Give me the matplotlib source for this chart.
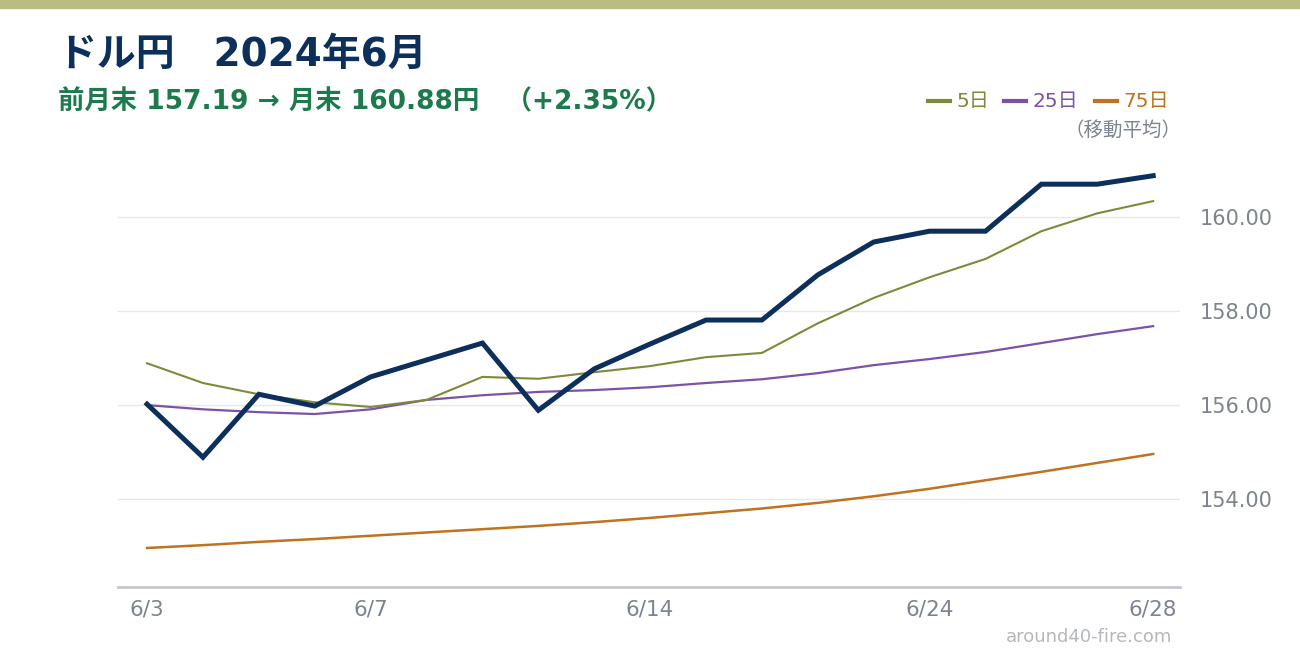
import matplotlib
matplotlib.use("Agg")
import matplotlib.pyplot as plt

plt.rcParams['font.family'] = ['DejaVu Sans', 'Noto Sans CJK JP']

# trading days (6/19 skipped)
dates = ["6/3", "6/4", "6/5", "6/6", "6/7", "6/10", "6/11", "6/12", "6/13", "6/14",
         "6/17", "6/18", "6/20", "6/21", "6/24", "6/25", "6/26", "6/27", "6/28"]
tick_dates = ["6/3", "6/7", "6/14", "6/24", "6/28"]

close = [156.02, 154.89, 156.23, 155.98, 156.60, 156.96, 157.32, 155.89, 156.77, 157.30,
         157.81, 157.81, 158.77, 159.47, 159.70, 159.70, 160.70, 160.70, 160.88]
ma5 = [156.89, 156.47, 156.23, 156.06, 155.96, 156.11, 156.60, 156.56, 156.70, 156.83,
       157.02, 157.11, 157.74, 158.28, 158.72, 159.11, 159.70, 160.08, 160.34]
ma25 = [156.00, 155.91, 155.85, 155.81, 155.91, 156.11, 156.21, 156.28, 156.32, 156.38,
        156.47, 156.55, 156.68, 156.85, 156.98, 157.13, 157.32, 157.51, 157.68]
ma75 = [152.96, 153.02, 153.09, 153.15, 153.22, 153.29, 153.36, 153.43, 153.51, 153.60,
        153.70, 153.80, 153.92, 154.06, 154.22, 154.40, 154.58, 154.77, 154.96]
yticks = [154, 156, 158, 160]

navy = "#0c2f5b"
green = "#1d7a4c"
olive = "#7d8a3a"
purple = "#7b52a8"
orange = "#c0721e"
gray = "#7c8490"

fig = plt.figure(figsize=(13, 6.6), dpi=100)
fig.patch.set_facecolor("white")

# top band
fig.patches.append(plt.Rectangle((0, 1 - 8/660), 1, 8/660, transform=fig.transFigure,
                                 color="#b9bd7f", zorder=0))

ax = fig.add_axes([118/1300, 73/660, 1062/1300, 447/660])
x = list(range(len(dates)))

ax.plot(x, ma75, color=orange, lw=1.8, zorder=2)
ax.plot(x, ma25, color=purple, lw=1.6, zorder=2)
ax.plot(x, ma5, color=olive, lw=1.5, zorder=3)
ax.plot(x, close, color=navy, lw=3.6, zorder=4, solid_joinstyle="miter")

ax.set_xlim(-0.52, 18.48)
ax.set_ylim(152.13, 161.64)

ax.set_yticks(yticks)
ax.set_yticklabels([f"{v:.2f}" for v in yticks])
ax.yaxis.tick_right()
ax.tick_params(axis="y", length=0, pad=14, labelsize=15, labelcolor=gray)
ax.set_xticks([dates.index(d) for d in tick_dates])
ax.set_xticklabels(tick_dates)
ax.tick_params(axis="x", length=0, pad=9, labelsize=15.5, labelcolor=gray)
ax.grid(axis="y", color="#e8e8e8", lw=1)
ax.set_axisbelow(True)
for s in ["top", "right", "left"]:
    ax.spines[s].set_visible(False)
ax.spines["bottom"].set_color("#c4c8cc")
ax.spines["bottom"].set_linewidth(2)

# titles
def ftext(px, py, s, **kw):
    return fig.text(px/1300, 1 - py/660, s, va="center", ha="left", **kw)

ftext(58, 55, "ドル円　2024年6月", fontsize=28, fontweight="bold", color=navy)
ftext(58, 102, "前月末 157.19 → 月末 160.88円　（+2.35%）", fontsize=19,
      fontweight="bold", color=green)

# legend
leg_items = [("5日", olive, 928), ("25日", purple, 1004), ("75日", orange, 1095)]
for label, c, px in leg_items:
    fig.lines.append(plt.Line2D([px/1300, (px + 22)/1300], [1 - 101/660, 1 - 101/660],
                                transform=fig.transFigure, color=c, lw=3))
    ftext(px + 28, 101, label, fontsize=14.5, color=c)
fig.text(1182/1300, 1 - 130/660, "（移動平均）", fontsize=14, color=gray,
         va="center", ha="right")

fig.text(1172/1300, 1 - 637/660, "around40-fire.com", fontsize=13, color="#b4b8bd",
         va="center", ha="right")

fig.savefig("out.png", dpi=100)
